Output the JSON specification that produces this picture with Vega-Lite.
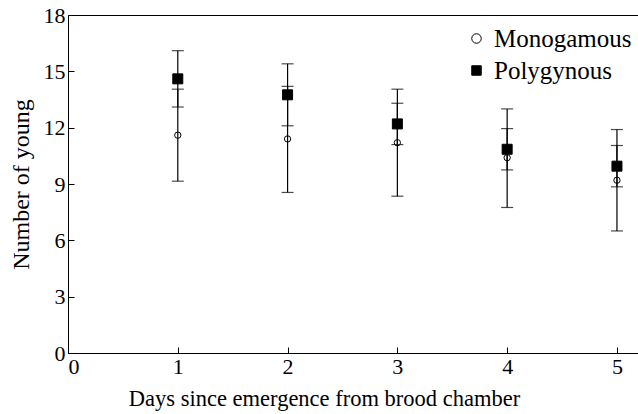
{
  "$schema": "https://vega.github.io/schema/vega-lite/v6.json",
  "width": 572,
  "height": 338,
  "autosize": {"type": "none"},
  "padding": {"left": 68, "top": 15, "right": 0, "bottom": 61},
  "background": "white",
  "config": {
    "font": "Liberation Serif",
    "view": {"stroke": "black", "strokeWidth": 1},
    "axis": {
      "grid": false,
      "domainColor": "black",
      "tickColor": "black",
      "labelColor": "black",
      "titleColor": "black",
      "labelFont": "Liberation Serif",
      "titleFont": "Liberation Serif",
      "labelFontSize": 22,
      "titleFontSize": 22.5,
      "titleFontWeight": "normal",
      "tickSize": -6,
      "labelPadding": 9
    },
    "legend": {
      "labelFont": "Liberation Serif",
      "labelFontSize": 25,
      "labelColor": "black",
      "orient": "none",
      "legendX": 396,
      "legendY": 11,
      "padding": 0,
      "symbolSize": 90,
      "symbolStrokeWidth": 1,
      "rowPadding": 6,
      "labelOffset": 5
    }
  },
  "data": {
    "values": [
      {"day": 1, "group": "Monogamous", "mean": 11.6, "lo": 9.15, "hi": 14.05},
      {"day": 1, "group": "Polygynous", "mean": 14.6, "lo": 13.1, "hi": 16.1},
      {"day": 2, "group": "Monogamous", "mean": 11.4, "lo": 8.55, "hi": 14.2},
      {"day": 2, "group": "Polygynous", "mean": 13.75, "lo": 12.1, "hi": 15.4},
      {"day": 3, "group": "Monogamous", "mean": 11.2, "lo": 8.35, "hi": 14.05},
      {"day": 3, "group": "Polygynous", "mean": 12.2, "lo": 11.1, "hi": 13.3},
      {"day": 4, "group": "Monogamous", "mean": 10.4, "lo": 7.75, "hi": 13.0},
      {"day": 4, "group": "Polygynous", "mean": 10.85, "lo": 9.75, "hi": 11.95},
      {"day": 5, "group": "Monogamous", "mean": 9.2, "lo": 6.5, "hi": 11.9},
      {"day": 5, "group": "Polygynous", "mean": 9.95, "lo": 8.85, "hi": 11.05}
    ]
  },
  "encoding": {
    "x": {
      "field": "day",
      "type": "quantitative",
      "scale": {"domain": [0, 5.21], "nice": false},
      "axis": {
        "values": [0, 1, 2, 3, 4, 5],
        "title": "Days since emergence from brood chamber",
        "titlePadding": 10,
        "titleX": 256
      }
    }
  },
  "layer": [
    {
      "mark": {"type": "rule", "color": "black", "strokeWidth": 1.2},
      "encoding": {
        "y": {
          "field": "lo",
          "type": "quantitative",
          "title": "Number of young",
          "scale": {"domain": [0, 18], "nice": false},
          "axis": {"values": [0, 3, 6, 9, 12, 15, 18], "titlePadding": 10, "titleFontSize": 24}
        },
        "y2": {"field": "hi"}
      }
    },
    {
      "mark": {"type": "tick", "orient": "horizontal", "size": 12, "thickness": 1.2, "color": "black"},
      "encoding": {"y": {"field": "lo", "type": "quantitative", "title": "Number of young"}}
    },
    {
      "mark": {"type": "tick", "orient": "horizontal", "size": 12, "thickness": 1.2, "color": "black"},
      "encoding": {"y": {"field": "hi", "type": "quantitative", "title": "Number of young"}}
    },
    {
      "transform": [{"filter": "datum.group === 'Monogamous'"}],
      "mark": {"type": "point", "filled": true, "strokeWidth": 1, "opacity": 1, "size": 40},
      "encoding": {
        "y": {"field": "mean", "type": "quantitative", "title": "Number of young"},
        "shape": {
          "field": "group",
          "type": "nominal",
          "title": null,
          "scale": {"domain": ["Monogamous", "Polygynous"], "range": ["circle", "square"]}
        },
        "fill": {
          "field": "group",
          "type": "nominal",
          "title": null,
          "scale": {"domain": ["Monogamous", "Polygynous"], "range": ["transparent", "black"]}
        },
        "stroke": {
          "field": "group",
          "type": "nominal",
          "title": null,
          "scale": {"domain": ["Monogamous", "Polygynous"], "range": ["black", "black"]}
        }
      }
    },
    {
      "transform": [{"filter": "datum.group === 'Polygynous'"}],
      "mark": {"type": "point", "filled": true, "strokeWidth": 1, "opacity": 1, "size": 100},
      "encoding": {
        "y": {"field": "mean", "type": "quantitative", "title": "Number of young"},
        "shape": {
          "field": "group",
          "type": "nominal",
          "title": null,
          "scale": {"domain": ["Monogamous", "Polygynous"], "range": ["circle", "square"]}
        },
        "fill": {
          "field": "group",
          "type": "nominal",
          "title": null,
          "scale": {"domain": ["Monogamous", "Polygynous"], "range": ["transparent", "black"]}
        },
        "stroke": {
          "field": "group",
          "type": "nominal",
          "title": null,
          "scale": {"domain": ["Monogamous", "Polygynous"], "range": ["black", "black"]}
        }
      }
    }
  ]
}
